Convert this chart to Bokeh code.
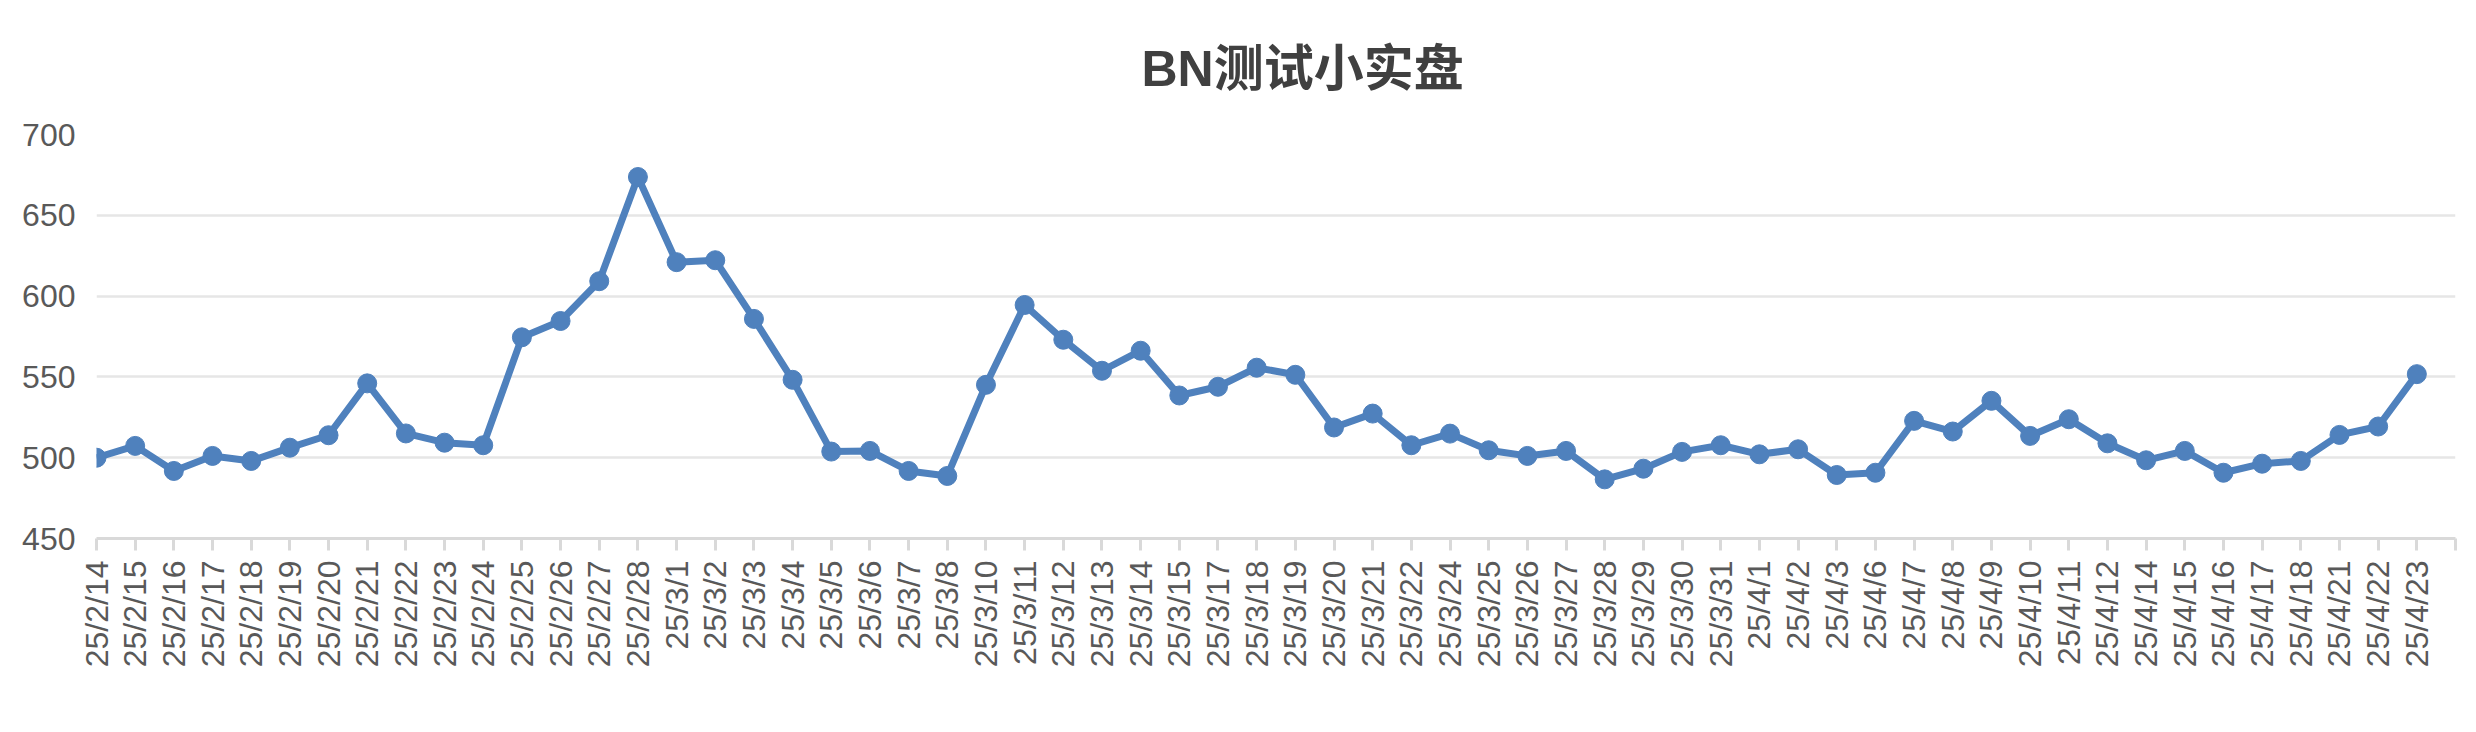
import math
from bokeh.plotting import figure
from bokeh.models import Range1d, FixedTicker, Legend
from bokeh.embed import file_html
from bokeh.resources import INLINE

title_text = "BN测试小实盘"
series_name = "BN权益图"

categories = [
    "25/2/14", "25/2/15", "25/2/16", "25/2/17", "25/2/18", "25/2/19", "25/2/20",
    "25/2/21", "25/2/22", "25/2/23", "25/2/24", "25/2/25", "25/2/26", "25/2/27",
    "25/2/28", "25/3/1", "25/3/2", "25/3/3", "25/3/4", "25/3/5", "25/3/6",
    "25/3/7", "25/3/8", "25/3/10", "25/3/11", "25/3/12", "25/3/13", "25/3/14",
    "25/3/15", "25/3/17", "25/3/18", "25/3/19", "25/3/20", "25/3/21", "25/3/22",
    "25/3/24", "25/3/25", "25/3/26", "25/3/27", "25/3/28", "25/3/29", "25/3/30",
    "25/3/31", "25/4/1", "25/4/2", "25/4/3", "25/4/6", "25/4/7", "25/4/8",
    "25/4/9", "25/4/10", "25/4/11", "25/4/12", "25/4/14", "25/4/15", "25/4/16",
    "25/4/17", "25/4/18", "25/4/21", "25/4/22", "25/4/23",
]

equity = [
    500.0, 507.3, 491.8, 501.1, 498.0, 506.2, 513.9,
    546.0, 515.0, 509.3, 507.7, 574.5, 584.6, 609.2,
    673.7, 621.0, 622.2, 585.9, 548.2, 503.8, 504.2,
    491.8, 488.7, 545.1, 594.5, 573.0, 553.8, 566.2,
    538.5, 543.9, 555.7, 551.3, 518.7, 527.3, 507.7,
    514.9, 504.6, 501.1, 504.2, 486.6, 493.2, 503.6,
    507.7, 502.1, 505.2, 489.3, 490.7, 522.8, 516.2,
    535.2, 513.5, 523.8, 508.9, 498.4, 504.2, 490.7,
    496.3, 498.0, 514.1, 519.3, 551.7,
]

y_ticks = [450, 500, 550, 600, 650, 700]

LATIN = "Liberation Sans"
MIXED = "Liberation Sans, Noto Sans CJK SC"
BLUE = "#4f81bd"

n_slots = len(categories) + 1  # one trailing empty slot on the category axis
xs = list(range(len(categories)))

p = figure(
    width=2476, height=732,
    output_backend="svg", toolbar_location=None,
    x_range=Range1d(0, n_slots - 1), y_range=Range1d(y_ticks[0], y_ticks[-1]),
    min_border_left=96, min_border_right=21, min_border_top=134, min_border_bottom=194,
)
p.outline_line_color = None
p.background_fill_color = "white"
p.border_fill_color = "white"

# title
p.title.text = title_text
p.title.align = "left"
p.title.offset = 1045
p.title.standoff = 76
p.title.text_font = MIXED
p.title.text_font_size = "50px"
p.title.text_font_style = "bold"
p.title.text_color = "#404040"

# x axis
p.xaxis.ticker = FixedTicker(ticks=list(range(n_slots)))
overrides = {i: c for i, c in enumerate(categories)}
overrides[n_slots - 1] = ""
p.xaxis.major_label_overrides = overrides
p.xaxis.major_label_orientation = math.pi / 2
p.xaxis.major_label_text_font = MIXED
p.xaxis.major_label_text_font_size = "32px"
p.xaxis.major_label_text_color = "#595959"
p.xaxis.major_label_standoff = 10
p.xaxis.axis_line_color = "#d9d9d9"
p.xaxis.axis_line_width = 3
p.xaxis.major_tick_line_color = "#d9d9d9"
p.xaxis.major_tick_line_width = 3
p.xaxis.major_tick_out = 12
p.xaxis.major_tick_in = 0
p.xaxis.minor_tick_line_color = None

# y axis
p.yaxis.ticker = FixedTicker(ticks=y_ticks)
p.yaxis.major_label_text_font = LATIN
p.yaxis.major_label_text_font_size = "32px"
p.yaxis.major_label_text_color = "#595959"
p.yaxis.major_label_standoff = 15
p.yaxis.axis_line_color = None
p.yaxis.major_tick_line_color = None
p.yaxis.minor_tick_line_color = None

p.xgrid.grid_line_color = None
p.ygrid.ticker = FixedTicker(ticks=y_ticks)
p.ygrid.grid_line_color = "#e6e6e6"
p.ygrid.grid_line_width = 2.5

r_line = p.line(xs, equity, line_color=BLUE, line_width=7)
r_pts = p.scatter(xs, equity, size=19, fill_color=BLUE, line_color=BLUE, line_width=1)

legend = Legend(
    items=[(series_name, [r_line, r_pts])],
    location=(1090, -214),
    orientation="horizontal",
    border_line_color=None,
    background_fill_alpha=0,
    padding=0, margin=0, spacing=0,
    glyph_width=78, glyph_height=56,
    label_standoff=8,
    label_text_font=MIXED,
    label_text_font_size="32px",
    label_text_color="#595959",
)
p.add_layout(legend, "center")

open("out.html", "w").write(file_html(p, INLINE))
